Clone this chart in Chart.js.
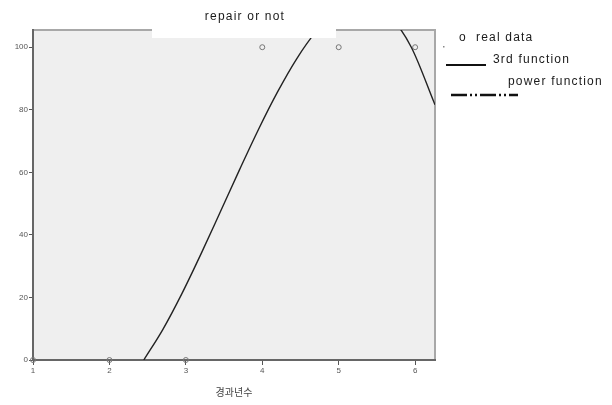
<!DOCTYPE html>
<html>
<head>
<meta charset="utf-8">
<script src="https://cdn.jsdelivr.net/npm/chart.js@4"></script>
<style>
  body { margin: 0; background: #fff; }
  canvas { display: block; }
</style>
</head>
<body>
<canvas id="chart" width="612" height="405"></canvas>
<script>
// Данные с картинки
const realX = [1, 2, 3, 4, 5, 6];
const realY = [0, 0, 0, 100, 100, 100];
const cubicX = [2.45, 2.7, 2.95, 3.2, 3.45, 3.7, 3.95, 4.2, 4.45, 4.7, 4.95, 5.2, 5.45, 5.7, 5.95, 6.26];
const cubicY = [0, 9.8, 21.3, 34.0, 47.3, 60.7, 73.7, 85.7, 96.3, 104.9, 111.1, 114.1, 113.7, 109.1, 100.0, 81.6];
const xTicks = [1, 2, 3, 4, 5, 6];
const yTicks = [0, 20, 40, 60, 80, 100];
const titleText = 'repair or not';
const xTitle = '경과년수';
const legendLabels = ['o  real data', '3rd function', 'power function'];

const FONT = '"Liberation Sans", Arial, sans-serif';

// Фон области графика и рамка
const backgroundPlugin = {
    id: 'plotBg',
    beforeDraw(chart) {
        const { ctx, chartArea: a } = chart;
        ctx.save();
        ctx.fillStyle = '#efefef';
        ctx.fillRect(a.left, a.top, a.right - a.left, a.bottom - a.top);
        ctx.strokeStyle = '#a8a8a8';
        ctx.lineWidth = 2;
        ctx.strokeRect(a.left, a.top, a.right - a.left, a.bottom - a.top);
        ctx.restore();
    }
};

// Заголовок в белой плашке поверх графика + легенда справа
const overlayPlugin = {
    id: 'overlay',
    afterDraw(chart) {
        const ctx = chart.ctx;
        ctx.save();
        ctx.fillStyle = '#ffffff';
        ctx.fillRect(152, 0, 184, 38);

        ctx.fillStyle = '#1a1a1a';
        ctx.textBaseline = 'alphabetic';
        ctx.font = '12px ' + FONT;
        if ('letterSpacing' in ctx) ctx.letterSpacing = '1.2px';
        ctx.textAlign = 'center';
        ctx.fillText(titleText, 245, 20);

        ctx.textAlign = 'left';
        ctx.fillText(legendLabels[0], 459, 41);
        ctx.fillText(legendLabels[1], 493, 63);
        ctx.fillText(legendLabels[2], 508, 85);

        // маленькая точка
        ctx.fillStyle = '#888';
        ctx.fillRect(443, 46, 1.5, 1.5);

        // сплошная линия
        ctx.strokeStyle = '#111';
        ctx.lineWidth = 2;
        ctx.beginPath();
        ctx.moveTo(446, 65);
        ctx.lineTo(486, 65);
        ctx.stroke();

        // штрих-пунктир
        ctx.lineWidth = 2.5;
        ctx.setLineDash([16, 3, 2, 3, 2, 3]);
        ctx.beginPath();
        ctx.moveTo(451, 95);
        ctx.lineTo(518, 95);
        ctx.stroke();
        ctx.restore();
    }
};

const ctx = document.getElementById('chart').getContext('2d');
new Chart(ctx, {
    type: 'scatter',
    data: {
        datasets: [
            {
                label: legendLabels[1],
                data: cubicX.map((x, i) => ({ x: x, y: cubicY[i] })),
                showLine: true,
                borderColor: '#222',
                borderWidth: 1.4,
                pointRadius: 0,
                cubicInterpolationMode: 'monotone'
            },
            {
                label: legendLabels[0],
                data: realX.map((x, i) => ({ x: x, y: realY[i] })),
                showLine: false,
                pointRadius: 2.5,
                pointBorderWidth: 1,
                pointBorderColor: '#777',
                pointBackgroundColor: 'rgba(0,0,0,0)',
                clip: false
            }
        ]
    },
    options: {
        responsive: false,
        animation: false,
        layout: { padding: { left: 0, right: 177, top: 30, bottom: 0 } },
        plugins: { legend: { display: false }, tooltip: { enabled: false } },
        scales: {
            x: {
                type: 'linear',
                min: 1,
                max: 6.26,
                afterBuildTicks: s => { s.ticks = xTicks.map(v => ({ value: v })); },
                afterFit: s => { s.height = 45; },
                grid: { drawOnChartArea: false, tickLength: 5, color: '#555', lineWidth: 1 },
                border: { display: true, color: '#666', width: 2 },
                ticks: { color: '#555', font: { family: FONT, size: 8 }, padding: 1, maxRotation: 0 },
                title: { display: true, text: xTitle, color: '#444', font: { family: '"Noto Sans CJK KR", sans-serif', size: 10 }, padding: { top: 4, bottom: 7 } }
            },
            y: {
                min: 0,
                max: 105.5,
                afterBuildTicks: s => { s.ticks = yTicks.map(v => ({ value: v })); },
                afterFit: s => { s.width = 33; },
                grid: { drawOnChartArea: false, tickLength: 4, color: '#555', lineWidth: 1 },
                border: { display: true, color: '#666', width: 2 },
                ticks: { color: '#555', font: { family: FONT, size: 8 }, padding: 1 }
            }
        }
    },
    plugins: [backgroundPlugin, overlayPlugin]
});
</script>
</body>
</html>
